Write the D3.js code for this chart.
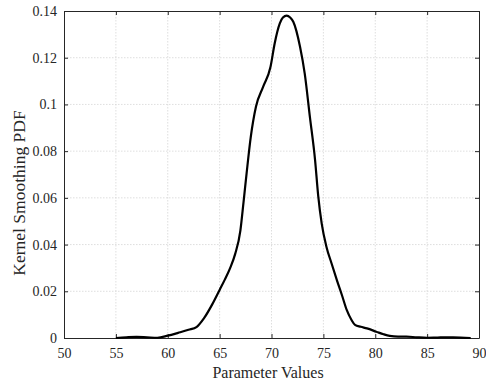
<!DOCTYPE html>
<html><head><meta charset="utf-8">
<script src="https://cdn.jsdelivr.net/npm/d3@7"></script>
<style>body{margin:0;background:#fff}svg{display:block}</style>
</head><body>
<script>
const xs = [55,56,57,58,59,60,61,62,62.8,63.5,64.3,65,65.5,66,66.5,67,67.3,67.6,68,68.5,69.2,69.9,70.3,70.8,71.1,71.46,71.8,72.1,72.75,73.2,73.7,74.2,74.5,74.84,75.3,75.8,76.3,76.8,77.25,77.7,78.05,78.6,79.2,80.1,80.8,81.4,82.2,83,84,85,86,87.5,89.2];
const ys = [0,0.0003,0.0005,0.0003,0.0001,0.001,0.0022,0.0035,0.0048,0.0085,0.0145,0.0206,0.025,0.0298,0.036,0.046,0.058,0.0705,0.086,0.099,0.1076,0.116,0.126,0.1347,0.1372,0.138,0.1372,0.1354,0.1247,0.1133,0.0947,0.0762,0.061,0.049,0.039,0.0318,0.0248,0.0182,0.012,0.0078,0.0056,0.0048,0.0041,0.0027,0.0016,0.0009,0.0006,0.0006,0.0003,0.0001,0.0002,0.0003,0];
const xTicks = [50,55,60,65,70,75,80,85,90];
const yTicks = [0,0.02,0.04,0.06,0.08,0.1,0.12,0.14];
const xLabel = "Parameter Values", yLabel = "Kernel Smoothing PDF";

const W=486,H=385, L=64,R=479,T=11,B=338;
const svg=d3.select("body").append("svg").attr("width",W).attr("height",H);
const x=d3.scaleLinear().domain([50,90]).range([L,R]);
const y=d3.scaleLinear().domain([0,0.14]).range([B,T]);
const font="'Liberation Serif','Times New Roman',serif";

const g=svg.append("g");
g.selectAll(".gx").data(xTicks.slice(1,-1)).join("line").attr("x1",d=>x(d)).attr("x2",d=>x(d)).attr("y1",T).attr("y2",B)
 .attr("stroke","#d6d6d6").attr("stroke-width",0.8).attr("stroke-dasharray","1.5,1.5");
g.selectAll(".gy").data(yTicks.slice(1,-1)).join("line").attr("y1",d=>y(d)).attr("y2",d=>y(d)).attr("x1",L).attr("x2",R)
 .attr("stroke","#d6d6d6").attr("stroke-width",0.8).attr("stroke-dasharray","1.5,1.5");

const fmt=d=>d3.format("")(+d.toFixed(2));
const ax=svg.append("g").attr("transform",`translate(0,${B})`).call(d3.axisBottom(x).tickValues(xTicks).tickSizeInner(-4).tickSizeOuter(0).tickPadding(10));
const ay=svg.append("g").attr("transform",`translate(${L},0)`).call(d3.axisLeft(y).tickValues(yTicks).tickFormat(fmt).tickSizeInner(-4).tickSizeOuter(0).tickPadding(7));
const at=svg.append("g").attr("transform",`translate(0,${T})`).call(d3.axisTop(x).tickValues(xTicks).tickFormat("").tickSizeInner(-4).tickSizeOuter(0));
const ar=svg.append("g").attr("transform",`translate(${R},0)`).call(d3.axisRight(y).tickValues(yTicks).tickFormat("").tickSizeInner(-4).tickSizeOuter(0));
[ax,ay,at,ar].forEach(a=>{a.select(".domain").attr("stroke","#262626");a.selectAll(".tick line").attr("stroke","#262626");
 a.selectAll("text").attr("font-family",font).attr("font-size",14).attr("fill","#262626");});

const data=xs.map((v,i)=>[v,ys[i]]);
svg.append("path").datum(data).attr("fill","none").attr("stroke","#000").attr("stroke-width",2.2)
 .attr("stroke-linejoin","round").attr("d",d3.line().x(d=>x(d[0])).y(d=>y(d[1])).curve(d3.curveMonotoneX));

svg.append("text").attr("x",268).attr("y",378).attr("text-anchor","middle").attr("font-family",font).attr("font-size",16).attr("fill","#262626").text(xLabel);
svg.append("text").attr("transform",`translate(25,193) rotate(-90)`).attr("text-anchor","middle").attr("font-family",font).attr("font-size",17.5).attr("fill","#262626").text(yLabel);
</script>
</body></html>
